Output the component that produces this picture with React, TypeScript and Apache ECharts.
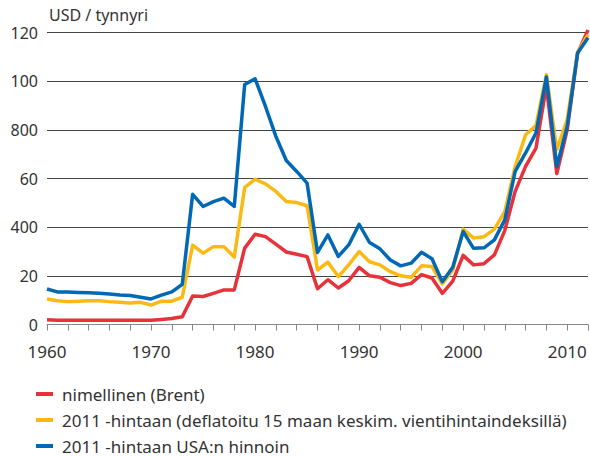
import React, { useEffect, useRef } from "react";
import * as echarts from "echarts";

const years: string[] = [];
for (let y = 1960; y <= 2012; y++) years.push(String(y));

const nominalBrent = [
  2.0, 1.7, 1.7, 1.7, 1.7, 1.7, 1.7, 1.7, 1.7, 1.7,
  1.7, 2.1, 2.5, 3.2, 11.7, 11.5, 12.8, 14.2, 14.2, 31.4,
  37.1, 36.1, 33.0, 29.8, 28.9, 27.9, 14.7, 18.4, 15.0, 18.0,
  23.5, 20.0, 19.4, 17.2, 16.0, 16.9, 20.5, 19.1, 12.8, 17.8,
  28.4, 24.5, 25.0, 28.6, 38.6, 54.7, 65.0, 72.5, 97.9, 62.0,
  80.0, 111.5, 121.0,
];

const deflated2011 = [
  10.5, 9.8, 9.4, 9.6, 9.8, 9.8, 9.4, 9.1, 8.8, 9.1,
  8.0, 9.6, 9.6, 11.2, 32.6, 29.3, 32.0, 32.0, 27.7, 56.3,
  59.7, 57.8, 54.7, 50.5, 50.1, 48.8, 22.4, 25.6, 19.7, 24.5,
  30.0, 25.8, 24.5, 21.7, 20.0, 19.4, 24.1, 23.8, 16.7, 22.4,
  39.2, 35.5, 36.1, 39.2, 46.4, 64.9, 78.0, 81.7, 102.7, 71.8,
  84.2, 111.9, 119.1,
];

const usaPrices2011 = [
  14.6, 13.4, 13.4, 13.2, 13.0, 12.8, 12.5, 12.1, 11.9, 11.2,
  10.5, 12.1, 13.4, 16.5, 53.5, 48.5, 50.5, 51.9, 48.5, 98.6,
  101.0, 89.6, 77.3, 67.4, 62.9, 58.1, 29.6, 36.8, 28.0, 32.7,
  41.2, 33.7, 31.1, 26.5, 24.1, 25.2, 29.7, 27.0, 17.6, 23.5,
  38.2, 31.3, 31.5, 34.8, 43.0, 62.9, 70.5, 78.7, 101.7, 64.9,
  81.4, 111.6, 117.8,
];

const seriesNames = [
  "nimellinen (Brent)",
  "2011 -hintaan (deflatoitu 15 maan keskim. vientihintaindeksillä)",
  "2011 -hintaan USA:n hinnoin",
];

const yTickValues = [0, 20, 40, 60, 80, 100, 120];
const yTickLabels = ["0", "20", "400", "60", "800", "100", "120"];

const FONT = "'Noto Sans', 'Open Sans', sans-serif";
const TEXT = "#333333";

export default function App() {
  const ref = useRef<HTMLDivElement>(null);

  useEffect(() => {
    document.body.style.margin = "0";
    if (!ref.current) return;
    const chart = echarts.init(ref.current, undefined, { renderer: "svg" });
    const colors = ["#e63238", "#fdb913", "#0068b4"];
    const datas = [nominalBrent, deflated2011, usaPrices2011];
    chart.setOption({
      animation: false,
      backgroundColor: "#ffffff",
      textStyle: { fontFamily: FONT },
      title: {
        text: "USD / tynnyri",
        left: 49,
        top: 7,
        padding: 0,
        textStyle: { fontFamily: FONT, fontSize: 16, fontWeight: "normal", color: TEXT },
      },
      legend: {
        orient: "vertical",
        left: 36,
        top: 385,
        height: 71,
        padding: 0,
        itemWidth: 17,
        itemHeight: 4,
        itemGap: 8,
        icon: "rect",
        textStyle: {
          fontFamily: FONT,
          fontSize: 17,
          color: TEXT,
          lineHeight: 18,
          padding: [0, 0, 0, 4],
        },
        data: seriesNames,
      },
      grid: { left: 47, right: 2, top: 32.5, bottom: 131.5 },
      xAxis: {
        type: "category",
        data: years,
        boundaryGap: false,
        axisLine: { show: true, lineStyle: { color: "#888888", width: 1 } },
        axisTick: {
          show: true,
          interval: 1,
          length: 6,
          lineStyle: { color: "#888888", width: 1 },
        },
        axisLabel: {
          interval: 9,
          margin: 18,
          fontFamily: FONT,
          fontSize: 17,
          color: TEXT,
        },
        splitLine: { show: false },
      },
      yAxis: {
        type: "value",
        min: 0,
        max: 120,
        interval: 20,
        axisLine: { show: false },
        axisTick: { show: false },
        axisLabel: {
          margin: 9,
          fontFamily: FONT,
          fontSize: 16,
          color: TEXT,
          formatter: (v: number) => {
            const i = yTickValues.indexOf(v);
            return i >= 0 ? yTickLabels[i] : "";
          },
        },
        splitLine: { show: true, lineStyle: { color: "#444444", width: 1 } },
      },
      series: datas.map((d, i) => ({
        name: seriesNames[i],
        type: "line",
        data: d,
        symbol: "none",
        clip: false,
        lineStyle: { color: colors[i], width: 3.5, join: "round" },
        itemStyle: { color: colors[i] },
        z: 2 + i,
      })),
    });
    return () => chart.dispose();
  }, []);

  return <div ref={ref} style={{ width: 590, height: 456 }} />;
}
